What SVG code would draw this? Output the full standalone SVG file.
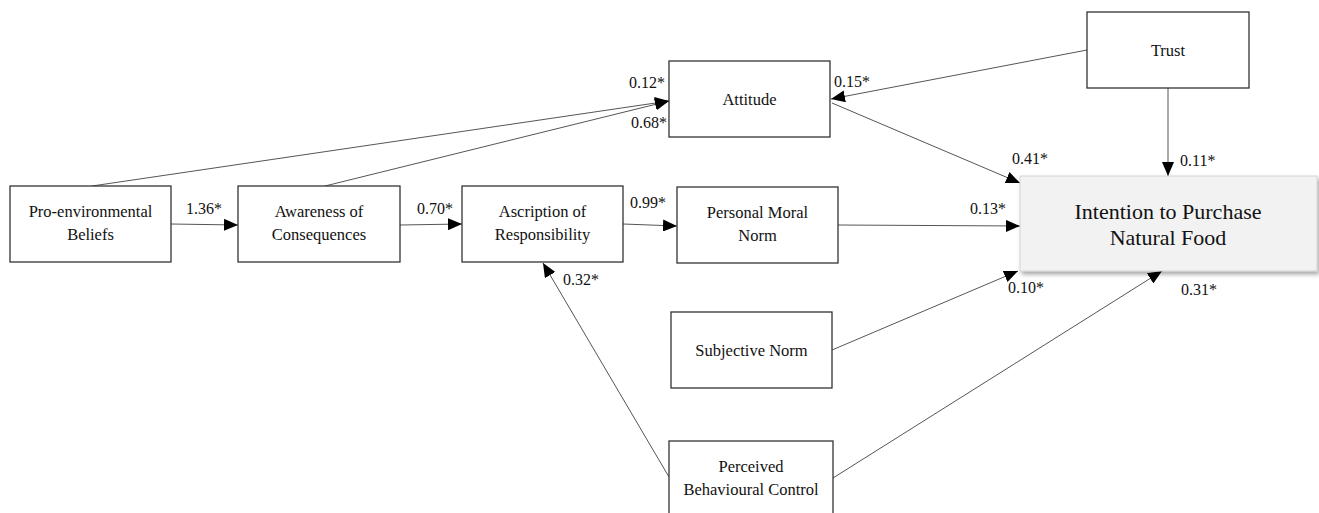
<svg xmlns="http://www.w3.org/2000/svg" width="1319" height="513" viewBox="0 0 1319 513">
<style>
.box{fill:#fff;stroke:#333;stroke-width:1.3}
.t{font-family:'Liberation Serif','DejaVu Serif',serif;font-size:16.5px;fill:#111;text-anchor:middle}
.lbl{font-family:'Liberation Serif','DejaVu Serif',serif;font-size:16px;fill:#111}
.c{stroke:#555;stroke-width:1;fill:none;marker-end:url(#ah)}
.big{font-size:22px}
</style>
<defs>
<marker id="ah" viewBox="0 0 14 12" refX="14" refY="6" markerWidth="14" markerHeight="12" markerUnits="userSpaceOnUse" orient="auto">
<path d="M0,0 L14,6 L0,12 z" fill="#000"/>
</marker>
<filter id="sh" x="-5%" y="-10%" width="115%" height="130%">
<feDropShadow dx="2" dy="3" stdDeviation="2" flood-color="#000" flood-opacity="0.35"/>
</filter>
</defs>
<g id="connectors">
<line class="c" x1="92" y1="186" x2="669" y2="101"/>
<line class="c" x1="325" y1="186" x2="669" y2="101"/>
<line class="c" x1="1087" y1="50" x2="831" y2="99"/>
<line class="c" x1="832" y1="103" x2="1020" y2="183"/>
<line class="c" x1="1168" y1="88" x2="1168" y2="176"/>
<line class="c" x1="171" y1="224" x2="238" y2="225"/>
<line class="c" x1="400" y1="225" x2="462" y2="224"/>
<line class="c" x1="623" y1="224" x2="677" y2="226"/>
<line class="c" x1="838" y1="225" x2="1020" y2="226"/>
<line class="c" x1="832" y1="350" x2="1018" y2="271"/>
<line class="c" x1="833" y1="478" x2="1162" y2="271"/>
<line class="c" x1="669" y1="477" x2="543" y2="263"/>
</g>
<g id="labels">
<text class="lbl" x="629" y="88">0.12*</text>
<text class="lbl" x="631" y="128">0.68*</text>
<text class="lbl" x="834" y="87">0.15*</text>
<text class="lbl" x="1012" y="164">0.41*</text>
<text class="lbl" x="1180" y="166">0.11*</text>
<text class="lbl" x="970" y="214">0.13*</text>
<text class="lbl" x="1008" y="293">0.10*</text>
<text class="lbl" x="1181" y="295">0.31*</text>
<text class="lbl" x="186" y="214">1.36*</text>
<text class="lbl" x="417" y="214">0.70*</text>
<text class="lbl" x="630" y="208">0.99*</text>
<text class="lbl" x="563" y="285">0.32*</text>
</g>
<g id="pro-env"><rect class="box" x="10" y="186" width="161" height="76"/><text class="t" x="90.5" y="217">Pro-environmental</text><text class="t" x="90.5" y="240">Beliefs</text></g>
<g id="awareness"><rect class="box" x="238" y="186" width="162" height="76"/><text class="t" x="319" y="217">Awareness  of</text><text class="t" x="319" y="240">Consequences</text></g>
<g id="ascription"><rect class="box" x="462" y="186" width="161" height="76"/><text class="t" x="542.5" y="217">Ascription  of</text><text class="t" x="542.5" y="240">Responsibility</text></g>
<g id="pmn"><rect class="box" x="677" y="187" width="161" height="76"/><text class="t" x="757.5" y="218">Personal  Moral</text><text class="t" x="757.5" y="241">Norm</text></g>
<g id="attitude"><rect class="box" x="669" y="61" width="161" height="76"/><text class="t" x="749.5" y="105">Attitude</text></g>
<g id="trust"><rect class="box" x="1087" y="12" width="162" height="76"/><text class="t" x="1168" y="56">Trust</text></g>
<g id="subjective"><rect class="box" x="671" y="312" width="161" height="76"/><text class="t" x="751.5" y="356">Subjective  Norm</text></g>
<g id="pbc"><rect class="box" x="669" y="441" width="164" height="90"/><text class="t" x="751" y="472">Perceived</text><text class="t" x="751" y="495">Behavioural  Control</text></g>
<g id="intention"><rect x="1020" y="176" width="297" height="95" fill="#f2f2f2" stroke="#ccc" stroke-width="0.8" filter="url(#sh)"/><text class="t big" x="1168" y="219">Intention to Purchase</text><text class="t big" x="1168" y="245">Natural Food</text></g>
</svg>
